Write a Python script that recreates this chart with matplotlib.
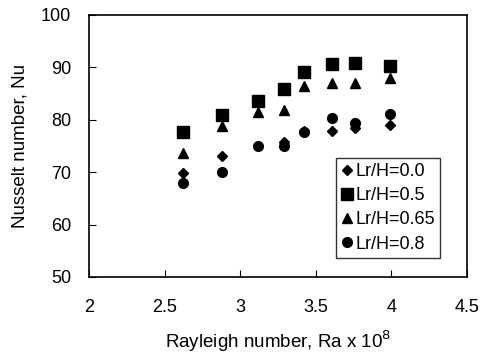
import matplotlib
matplotlib.use("Agg")
import matplotlib.pyplot as plt

plt.rcParams['font.family'] = ['Liberation Sans', 'DejaVu Sans']

ra = [2.62, 2.88, 3.12, 3.29, 3.42, 3.61, 3.76, 3.99]
nu_00 = [69.9, 73.1, 74.9, 75.8, 77.9, 77.9, 78.4, 79.0]
nu_05 = [77.7, 80.9, 83.5, 85.8, 89.2, 90.6, 90.8, 90.3]
nu_065 = [73.7, 78.8, 81.4, 81.9, 86.5, 87.0, 87.0, 87.9]
nu_08 = [68.0, 70.1, 74.9, 74.9, 77.7, 80.3, 79.4, 81.1]

series = [
    (nu_00, 'D', 5.5, 'Lr/H=0.0'),
    (nu_05, 's', 8, 'Lr/H=0.5'),
    (nu_065, '^', 7, 'Lr/H=0.65'),
    (nu_08, 'o', 7, 'Lr/H=0.8'),
]

fig = plt.figure(figsize=(4.84, 3.56), dpi=100)
ax = fig.add_axes([0.184, 0.222, 0.781, 0.736])

for vals, mk, ms, lab in series:
    ax.plot(ra, vals, linestyle='none', marker=mk, markersize=ms,
            color='black', label=lab)

ax.set_xlim(2, 4.5)
ax.set_ylim(50, 100)
ax.set_xticks([2, 2.5, 3, 3.5, 4, 4.5])
ax.set_xticklabels(['2', '2.5', '3', '3.5', '4', '4.5'])
ax.set_yticks([50, 60, 70, 80, 90, 100])
ax.tick_params(direction='in', length=5, labelsize=13)
ax.tick_params(axis='x', pad=16)
ax.tick_params(axis='y', pad=13)
for s in ax.spines.values():
    s.set_linewidth(1.2)

ax.set_xlabel('Rayleigh number, Ra x 10$^8$', fontsize=13.5, labelpad=9)
ax.set_ylabel('Nusselt number, Nu', fontsize=13.5, labelpad=9)

leg = ax.legend(loc='lower right', bbox_to_anchor=(0.929, 0.072), fontsize=13,
                frameon=True, fancybox=False, edgecolor='black',
                handlelength=0.6, handletextpad=0.15, borderpad=0.3,
                labelspacing=0.4, borderaxespad=0)
leg.get_frame().set_linewidth(1.0)

fig.savefig('out.png', dpi=100)
